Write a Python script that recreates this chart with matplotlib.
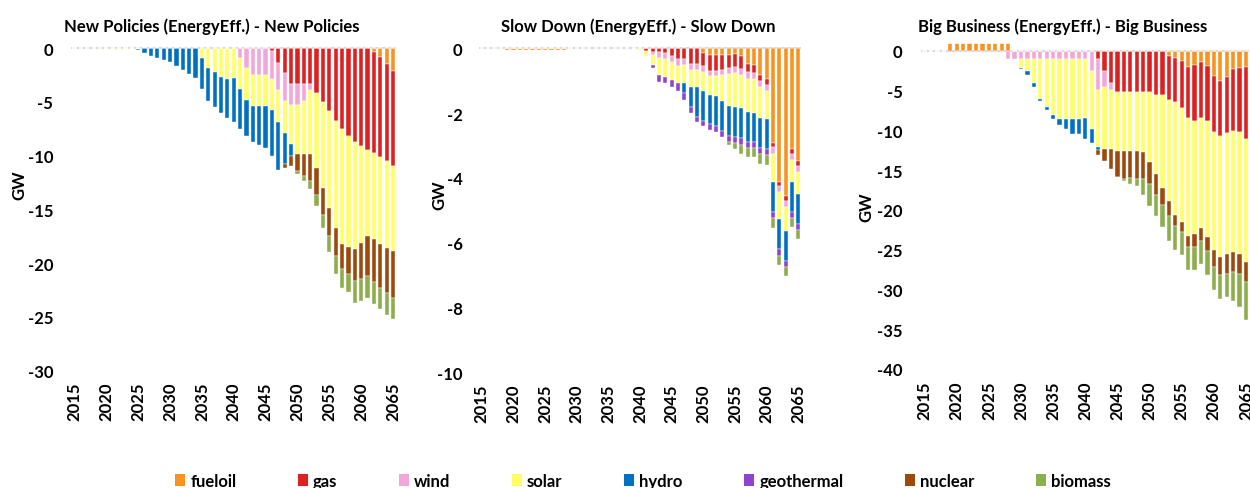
import numpy as np
import matplotlib
matplotlib.use("Agg")
import matplotlib.pyplot as plt
from matplotlib.patches import Patch

plt.rcParams['font.family'] = ['Lato', 'DejaVu Sans']

years = list(range(2015, 2066))
series = ["fueloil", "gas", "wind", "solar", "hydro", "geothermal", "nuclear", "biomass"]
colours = ["#F7931E", "#DF2020", "#F2A7D8", "#FFFF66", "#0070C0", "#8E44CC", "#9B4A0C", "#8DAE4C"]

# New Policies (GW, one value per year 2015-2065)
np_fueloil = [0] * 47 + [-0.35, -0.85, -1.5, -2.1]
np_gas = [0] * 31 + [-0.3, -1.35, -2.35, -3.35, -3.35, -3.35, -3.35, -4.2, -5.05, -5.9,
                     -6.8, -7.5, -8.15, -8.7, -9.1, -9.45, -9.45, -9.3, -9.05, -8.85]
np_wind = [0] * 26 + [-0.9, -1.9, -2.5, -2.5, -2.5, -2.6, -2.6, -2.6, -1.95, -1.95, -1.6, -0.6] + [0] * 13
np_solar = [0] * 5 + [-0.05] * 6 + [0] * 9 + [
    -0.95, -1.9, -2.2, -2.7, -2.9, -2.8, -2.9, -2.9, -2.85, -2.85, -2.85, -2.9, -2.9, -2.95, -3.6, -4.6,
    -4.95, -5.95, -6.95, -7.95, -9.0, -9.95, -10.75, -10.35, -10.0, -9.0, -8.05, -8.0, -8.05, -8.05, -7.95]
np_hydro = [0] * 9 + [-0.05, -0.15, -0.5, -0.7, -0.9, -1.1, -1.3, -1.65, -2.05, -2.4, -2.8, -2.9, -3.0,
                      -3.25, -3.35, -3.65, -4.1, -3.75, -3.4, -3.35, -3.65, -3.95, -4.25, -4.5, -2.85, -1.1] + [0] * 16
np_geo = [0] * 51
np_nuclear = [0] * 33 + [-0.45, -1.0, -1.55, -2.0, -2.5, -2.5, -2.5, -2.55, -2.55, -2.25, -2.5, -3.0,
                         -3.4, -3.7, -4.0, -4.1, -4.2, -4.3]
np_biomass = [0] * 35 + [-0.22, -0.45, -0.75, -1.0, -1.25, -1.5, -1.7, -1.8, -1.65, -2.0, -2.0, -2.0,
                         -2.0, -2.0, -2.0, -2.0]

# Slow Down
sd_fueloil = [0] * 4 + [-0.05] * 10 + [0] * 21 + [
    -0.14, -0.21, -0.21, -0.21, -0.21, -0.18, -0.25, -0.48, -0.52, -0.82, -0.95, -2.92, -4.12, -4.55, -3.11, -3.49]
sd_gas = [0] * 26 + [-0.07, -0.1, -0.12, -0.14, -0.25, -0.33, -0.33, -0.48, -0.48, -0.42, -0.48, -0.48, -0.45,
                     -0.41, -0.41, -0.39, -0.26, -0.25, -0.18, -0.18, -0.14, -0.12, -0.15, -0.15, -0.15]
sd_wind = [0] * 27 + [-0.1, -0.19, -0.19, -0.18, -0.21, -0.19, -0.18, -0.18, -0.18, -0.18, -0.18, -0.16,
                      -0.17, -0.18, -0.17, -0.21, -0.18, -0.18, -0.2, -0.2, -0.21, -0.21, -0.19, -0.19]
sd_solar = [0] * 24 + [-0.02, -0.04, -0.16, -0.32, -0.51, -0.57, -0.54, -0.54, -0.56, -0.54, -0.54, -0.57,
                       -0.56, -0.6, -0.8, -0.98, -1.05, -1.04, -1.03, -1.05, -0.98, -0.85, -0.88, -0.82,
                       -0.72, -0.69, -0.67]
sd_hydro = [0] * 32 + [-0.3, -0.62, -0.93, -0.93, -0.91, -0.93, -0.92, -0.93, -0.93, -0.93, -0.92, -0.9,
                       -0.93, -0.93, -0.9, -0.92, -0.92, -0.9, -0.92]
sd_geo = [0] * 27 + [-0.1, -0.21, -0.18, -0.21, -0.23, -0.22, -0.18, -0.16, -0.17, -0.18, -0.18, -0.19,
                     -0.18, -0.17, -0.2, -0.19, -0.19, -0.17, -0.18, -0.21, -0.21, -0.19, -0.21, -0.19]
sd_nuclear = [0] * 51
sd_biomass = [0] * 39 + [-0.1, -0.19, -0.28, -0.28, -0.28, -0.31, -0.31, -0.3, -0.29, -0.3, -0.28, -0.28]

# Big Business
bb_fueloil = [0] * 4 + [1.0] * 10 + [0] * 24 + [
    -0.71, -0.96, -1.25, -2.0, -1.75, -1.46, -1.88, -3.22, -3.76, -3.26, -2.3, -2.17, -2.09]
bb_gas = [0] * 27 + [-1.1, -2.5, -4.1, -5.23, -5.23, -5.23, -5.23, -5.23, -5.23, -5.57, -5.57, -5.48,
                     -5.53, -5.95, -6.45, -7.04, -6.99, -6.99, -7.04, -7.0, -7.12, -7.75, -8.09, -9.0]
bb_wind = [0] * 13 + [-1.1] * 13 + [-2.5, -3.8, -2.1, -0.8] + [0] * 21
bb_solar = [0] * 5 + [-0.08] * 8 + [0] * 2 + [
    -1.1, -1.46, -2.97, -4.94, -5.98, -6.95, -7.45, -7.45, -7.45, -7.45, -7.4, -7.35, -7.24, -7.75,
    -7.45, -7.41, -7.33, -7.33, -7.33, -7.54, -8.79, -9.92, -11.68, -12.73, -14.15, -14.28, -14.87,
    -14.24, -13.82, -14.58, -14.78, -15.2, -15.16, -15.2, -15.28, -15.41]
bb_hydro = [0] * 15 + [-0.08, -0.46, -0.5, -0.33, -0.34, -0.5, -0.75, -1.34, -1.88, -1.88, -2.6, -1.8, -0.34] + [0] * 23
bb_geo = [0] * 51
bb_nuclear = [0] * 27 + [-0.58, -1.47, -2.51, -3.19, -3.56, -3.47, -3.56, -3.35, -2.73, -2.64, -2.09, -1.8,
                         -1.34, -1.34, -1.38, -1.67, -1.6, -1.67, -2.17, -2.22, -2.51, -2.59, -2.51, -2.6]
bb_biomass = [0] * 30 + [-0.05, -0.21, -0.72, -0.84, -2.0, -2.72, -2.59, -2.85, -3.15, -3.02, -2.85, -2.85,
                         -2.85, -2.93, -3.02, -2.81, -3.01, -2.93, -3.65, -4.19, -4.73]

W, H = 1250, 489
fig = plt.figure(figsize=(W / 100, H / 100), dpi=100)


def panel(data, title, x2015, x2065, y0, ymin, ymin_px, ymax, step, title_x, gw_x, gw_y, ypad):
    ppy = (x2065 - x2015) / 50
    ppg = (ymin_px - y0) / (-ymin)
    left = x2015 - 0.5 * ppy
    right = x2065 + 0.5 * ppy
    top = y0 - ymax * ppg
    ax = fig.add_axes([left / W, 1 - ymin_px / H, (right - left) / W, (ymin_px - top) / H])

    pos = np.zeros(len(years))
    neg = np.zeros(len(years))
    for vals, col in zip(data, colours):
        v = np.array(vals, dtype=float)
        base = np.where(v >= 0, pos, neg)
        ax.bar(years, v, bottom=base, width=0.66, color=col, edgecolor='white', linewidth=0.3, zorder=2)
        pos += np.clip(v, 0, None)
        neg += np.clip(v, None, 0)

    ax.axhline(0, color='#D9D9D9', lw=1.5, zorder=1)
    ax.set_xlim(2014.5, 2065.5)
    ax.set_ylim(ymin, ymax)
    for s in ax.spines.values():
        s.set_visible(False)
    yt = list(range(ymin, 1, step))
    ax.set_yticks(yt)
    ax.set_yticklabels([str(t) for t in yt], fontsize=12, fontweight='bold')
    xt = list(range(2015, 2066, 5))
    ax.set_xticks(xt)
    ax.set_xticklabels([str(t) for t in xt], fontsize=12, fontweight='bold', rotation=90)
    ax.tick_params(axis='both', length=0)
    ax.tick_params(axis='x', pad=8)
    ax.tick_params(axis='y', pad=ypad)
    ax.patch.set_alpha(0)

    fig.text(title_x / W, 1 - 27 / H, title, ha='center', va='center', fontsize=12, fontweight='bold')
    fig.text(gw_x / W, 1 - gw_y / H, "GW", ha='center', va='center', rotation=90, fontsize=12, fontweight='bold')


panel([np_fueloil, np_gas, np_wind, np_solar, np_hydro, np_geo, np_nuclear, np_biomass],
      "New Policies (EnergyEff.) - New Policies", 74.5, 393.0, 49.0, -30, 371.7, 0.3, 5,
      212, 19, 185, 13)
panel([sd_fueloil, sd_gas, sd_wind, sd_solar, sd_hydro, sd_geo, sd_nuclear, sd_biomass],
      "Slow Down (EnergyEff.) - Slow Down", 481.8, 798.3, 49.3, -10, 373.3, 0.1, 2,
      638, 439, 195, 11.5)
panel([bb_fueloil, bb_gas, bb_wind, bb_solar, bb_hydro, bb_geo, bb_nuclear, bb_biomass],
      "Big Business (EnergyEff.) - Big Business", 924.6, 1246.0, 51.7, -40, 370.0, 1.3, 5,
      1063, 866, 207, 13.5)

handles = [Patch(facecolor=c, edgecolor='none') for c in colours]
fig.legend(handles, series, loc='center', bbox_to_anchor=(643 / W, 1 - 482 / H), ncol=8,
           frameon=False, prop={'weight': 'bold', 'size': 12},
           handlelength=0.6, handleheight=0.7, handletextpad=0.3, columnspacing=3.7)

fig.savefig("out.png", dpi=100)
